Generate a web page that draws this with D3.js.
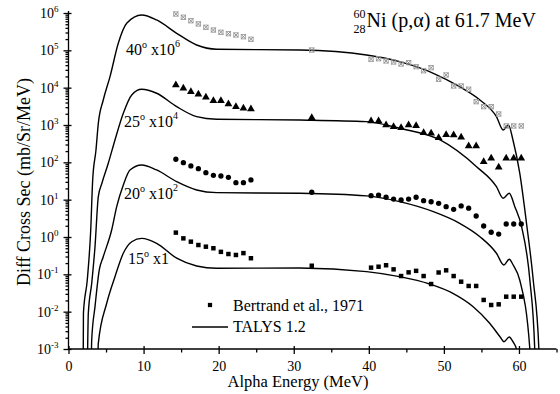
<!DOCTYPE html>
<html><head><meta charset="utf-8">
<script src="https://cdn.jsdelivr.net/npm/d3@7"></script>
<style>
body{margin:0;background:#fff}
svg text{font-family:"Liberation Serif","Tinos","Times New Roman","DejaVu Serif","Noto Serif",serif !important;fill:#000}
</style>
</head><body>
<svg id="chart" width="560" height="394"></svg>
<script>
// ---------- data ----------
const angleLabels = ["40", "25", "20", "15"];
const scaleExp = [6, 4, 2, 0];          // plotted as x10^exp
const scaleLabels = ["x10", "x10", "x10", "x1"];

// Bertrand et al., 1971 (measured energies, MeV)
const expEnergy = [14.3,15.3,16.3,17.3,18.3,19.3,20.3,21.3,22.3,23.3,24.3,32.4,
  40.3,41.3,42.3,43.3,44.3,45.3,46.3,47.3,48.3,49.3,50.3,51.3,52.3,53.3,54.3,55.3,56.3,57.3,58.3,59.3,60.3];
const exp40 = [0.94,0.77,0.62,0.51,0.415,0.35,0.305,0.28,0.258,0.232,0.198,0.102,
  0.0575,0.0598,0.0519,0.0488,0.0431,0.0467,0.0365,0.0285,0.0343,0.0168,0.0219,0.0111,0.0111,0.00906,0.00422,0.0031,0.0031,0.00197,0.000942,0.000942,0.000942];
const exp25 = [1.18,0.96,0.78,0.665,0.553,0.449,0.449,0.366,0.31,0.28,0.269,0.157,
  0.128,0.128,0.100,0.0902,0.0848,0.100,0.0959,0.0623,0.060,0.0457,0.0551,0.054,0.0469,0.0274,0.0274,0.0104,0.0128,0.0074,0.0128,0.0128,0.0128];
const exp20 = [1.21,0.98,0.80,0.676,0.528,0.45,0.43,0.398,0.285,0.285,0.337,0.158,
  0.128,0.133,0.116,0.104,0.098,0.104,0.116,0.094,0.088,0.080,0.065,0.055,0.068,0.059,0.0365,0.0197,0.0134,0.012,0.0223,0.0223,0.0223];
const exp15 = [1.31,0.92,0.75,0.61,0.55,0.50,0.40,0.35,0.33,0.37,0.27,0.17,
  0.151,0.160,0.175,0.136,0.090,0.113,0.124,0.090,0.055,0.112,0.128,0.090,0.0635,0.0488,0.0488,0.0206,0.0151,0.0157,0.0252,0.0252,0.0252];

// TALYS 1.2 curves
const talysE40 = [1.94,1.99,2.50,2.96,3.22,3.66,3.97,4.63,5.53,6.63,7.75,9.75,11.74,14.41,17.07,19.73,30.83,39.7,44.1,48.6,52.1,54.8,57.0,57.9,58.6,59.2,60.1,61.0,61.9,62.65,62.8];
const talys40 = [1e-10,9.2e-9,7.05e-8,1.54e-6,3.37e-5,2.14e-4,1.11e-3,4.68e-3,1.97e-2,0.155,0.531,0.885,0.65,0.286,0.139,0.107,0.102,0.075,0.0497,0.0243,0.0106,4.68e-3,1.67e-3,7.36e-4,1.0e-3,3.97e-4,5.19e-5,2.37e-6,7.05e-8,1e-9,1e-10];
const talysE25 = [2.49,2.64,3.09,3.53,3.97,4.46,5.30,6.19,7.30,8.42,9.75,11.74,14.41,17.07,19.73,30.83,39.7,44.1,49.5,54.35,57.0,57.9,58.7,59.45,60.35,61.45,62.1,62.25];
const talys25 = [1e-8,9.0e-7,5.75e-6,5.5e-5,1.2e-3,2.8e-3,9.44e-3,0.0397,0.206,0.637,0.906,0.708,0.31,0.167,0.142,0.136,0.123,0.0817,0.0397,7.64e-3,2.23e-3,1.09e-3,1.48e-3,6.49e-4,1.89e-4,7.05e-6,1e-7,1e-8];
const talysE20 = [3.00,3.09,3.53,4.10,4.63,5.75,6.42,7.30,8.19,9.75,11.74,14.41,17.07,19.73,30.83,39.7,44.1,48.6,52.1,54.8,57.0,57.99,58.7,59.23,60.1,61.45,61.6];
const talys20 = [1e-6,1.74e-5,1.36e-4,1.31e-3,2.97e-3,0.0154,0.0649,0.247,0.624,0.849,0.624,0.303,0.182,0.154,0.148,0.126,0.0883,0.0476,0.0233,0.0102,3.67e-3,1.78e-3,2.53e-3,1.78e-3,7.05e-4,1e-5,1e-6];
const talysE15 = [3.86,3.97,5.09,6.19,7.30,8.42,9.75,11.74,14.41,17.07,19.73,30.83,39.7,44.1,48.1,51.2,53.9,56.1,57.5,58.0,58.7,59.2,59.7,59.9];
const talys15 = [1e-4,1.42e-3,0.0168,0.0865,0.367,0.748,0.92,0.68,0.27,0.167,0.145,0.148,0.118,0.0865,0.055,0.031,0.0136,0.0049,0.0021,0.00157,0.0021,0.00157,9.4e-4,1e-4];

const xMajor = [0,10,20,30,40,50,60];
const xMinor = [5,15,25,35,45,55,65];
const yExp = [-3,-2,-1,0,1,2,3,4,5,6];

// ---------- chart ----------
const FONT = "'Liberation Serif','Tinos','Times New Roman','DejaVu Serif','Noto Serif',serif";
const svg = d3.select("#chart");
const x = d3.scaleLinear().domain([0,65]).range([68.5,556.5]);
const y = d3.scaleLog().domain([1e-3,1e6]).range([349,13]);

svg.append("defs").append("clipPath").attr("id","clip")
  .append("rect").attr("x",68.5).attr("y",0).attr("width",492).attr("height",349);

// axes
const gx = svg.append("g").attr("transform","translate(0,349)");
gx.call(d3.axisBottom(x).tickValues(xMajor).tickSize(5).tickFormat(d3.format("d")));
gx.attr("font-family",FONT);
gx.selectAll(".tick line").attr("y1",-3);
gx.select(".domain").attr("d",`M${x(0)},0H${x(65)}`);
gx.selectAll(".tick text").attr("font-size",14).attr("dy",0).attr("y",21.5);
const gxm = svg.append("g").attr("transform","translate(0,349)");
gxm.call(d3.axisBottom(x).tickValues(xMinor).tickSize(3.5).tickFormat(""));
gxm.select(".domain").remove();

const gy = svg.append("g").attr("transform","translate(68.5,0)");
gy.call(d3.axisLeft(y).tickValues(yExp.map(e=>Math.pow(10,e))).tickSize(5).tickFormat(""));
gy.selectAll(".tick line").attr("x1",3);
gy.select(".domain").attr("d",`M0,349V11`);
const minorVals = [];
yExp.slice(0,-1).forEach(e=>{ for(let m=2;m<=9;m++) minorVals.push(m*Math.pow(10,e)); });
const gym = svg.append("g").attr("transform","translate(68.5,0)");
gym.call(d3.axisLeft(y).tickValues(minorVals).tickSize(3).tickFormat(""));
gym.select(".domain").remove();
svg.selectAll(".domain, .tick line").attr("stroke","#000").attr("stroke-width",1.3);

// y tick labels with superscripts
const yl = svg.append("g").attr("font-family",FONT);
yExp.forEach(e=>{
  const t = yl.append("text").attr("x",58.5).attr("y",y(Math.pow(10,e))+5)
    .attr("text-anchor","end").attr("font-size",14);
  t.append("tspan").text("10");
  t.append("tspan").attr("font-size",9).attr("dy",-6).text(String(e));
});

const tg = svg.append("g").attr("font-family",FONT);
// axis titles
tg.append("text").attr("x",298).attr("y",387).attr("text-anchor","middle")
  .attr("font-size",16.5).text("Alpha Energy (MeV)");
tg.append("text").attr("transform","translate(30,182) rotate(-90)").attr("text-anchor","middle")
  .attr("font-size",18).text("Diff Cross Sec (mb/Sr/MeV)");

// title
tg.append("text").attr("x",365.5).attr("y",18).attr("text-anchor","end").attr("font-size",12).text("60");
tg.append("text").attr("x",365.5).attr("y",33).attr("text-anchor","end").attr("font-size",12).text("28");
tg.append("text").attr("x",366.5).attr("y",27).attr("font-size",20).text("Ni (p,\u03b1) at 61.7 MeV");

// curves
const talysE = [talysE40,talysE25,talysE20,talysE15];
const talysV = [talys40,talys25,talys20,talys15];
const line = d3.line().x(d=>x(d[0])).y(d=>y(d[1])).curve(d3.curveMonotoneX);
const cg = svg.append("g").attr("clip-path","url(#clip)");
talysE.forEach((es,i)=>{
  const f = Math.pow(10,scaleExp[i]);
  cg.append("path").datum(es.map((e,j)=>[e,talysV[i][j]*f]))
    .attr("d",line).attr("fill","none").attr("stroke","#000").attr("stroke-width",1.4);
});

// markers
const expV = [exp40,exp25,exp20,exp15];
const mg = svg.append("g");
expV.forEach((vals,i)=>{
  const f = Math.pow(10,scaleExp[i]);
  vals.forEach((v,j)=>{
    const px = x(expEnergy[j]), py = y(v*f);
    if(i===0){
      const s=2.2;
      mg.append("rect").attr("x",px-s).attr("y",py-s).attr("width",2*s).attr("height",2*s)
        .attr("fill","none").attr("stroke","#a0a0a0").attr("stroke-width",0.9);
      mg.append("path").attr("d",`M${px-s},${py-s}L${px+s},${py+s}M${px-s},${py+s}L${px+s},${py-s}`)
        .attr("stroke","#888").attr("stroke-width",0.9);
    } else {
      const type = i===1?d3.symbolTriangle:(i===2?d3.symbolCircle:d3.symbolSquare);
      const size = i===1?26:(i===2?22:20);
      mg.append("path").attr("transform",`translate(${px},${py})`)
        .attr("d",d3.symbol().type(type).size(size)()).attr("fill","#000");
    }
  });
});

// curve labels
const labelPos = [[126,55],[124,127],[124,199],[128,264]];
angleLabels.forEach((a,i)=>{
  const t = tg.append("text").attr("x",labelPos[i][0]).attr("y",labelPos[i][1]).attr("font-size",16);
  t.append("tspan").text(a);
  t.append("tspan").attr("font-size",10).attr("dy",-7).text("o");
  t.append("tspan").attr("dy",7).text(" "+scaleLabels[i]);
  if(scaleExp[i]>0) t.append("tspan").attr("font-size",10).attr("dy",-8).text(scaleExp[i]);
});

// legend
svg.append("path").attr("transform","translate(210,305)")
  .attr("d",d3.symbol().type(d3.symbolSquare).size(18)()).attr("fill","#000");
tg.append("text").attr("x",233).attr("y",311).attr("font-size",16).text("Bertrand et al., 1971");
svg.append("line").attr("x1",192).attr("x2",228).attr("y1",327).attr("y2",327)
  .attr("stroke","#000").attr("stroke-width",1.4);
tg.append("text").attr("x",233).attr("y",332).attr("font-size",16).text("TALYS 1.2");
</script>
</body></html>
